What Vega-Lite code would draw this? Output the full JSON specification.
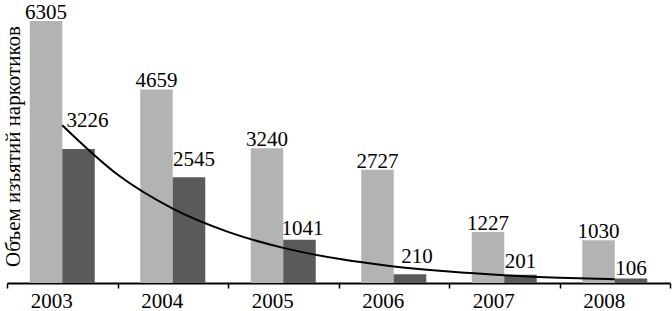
{
  "$schema": "https://vega.github.io/schema/vega-lite/v6.json",
  "width": 663,
  "height": 279,
  "autosize": {"type": "none"},
  "padding": {"left": 7, "top": 4, "right": 2, "bottom": 28},
  "config": {
    "view": {"stroke": null},
    "font": "Liberation Serif, Times New Roman, serif",
    "text": {"font": "Liberation Serif, Times New Roman, serif", "fontSize": 21, "color": "black", "baseline": "alphabetic", "align": "center"}
  },
  "datasets": {
    "bars": [
      {"year": "2003", "series": "ряд 1", "value": 6305},
      {"year": "2003", "series": "ряд 2", "value": 3226},
      {"year": "2004", "series": "ряд 1", "value": 4659},
      {"year": "2004", "series": "ряд 2", "value": 2545},
      {"year": "2005", "series": "ряд 1", "value": 3240},
      {"year": "2005", "series": "ряд 2", "value": 1041},
      {"year": "2006", "series": "ряд 1", "value": 2727},
      {"year": "2006", "series": "ряд 2", "value": 210},
      {"year": "2007", "series": "ряд 1", "value": 1227},
      {"year": "2007", "series": "ряд 2", "value": 201},
      {"year": "2008", "series": "ряд 1", "value": 1030},
      {"year": "2008", "series": "ряд 2", "value": 106}
    ],
    "trend": [
      {"t": 2003, "value": 3796},
      {"t": 2003.5, "value": 2610},
      {"t": 2004, "value": 1790},
      {"t": 2004.5, "value": 1231},
      {"t": 2005, "value": 845},
      {"t": 2005.5, "value": 581},
      {"t": 2006, "value": 398},
      {"t": 2006.5, "value": 274},
      {"t": 2007, "value": 188},
      {"t": 2007.5, "value": 129},
      {"t": 2008, "value": 89}
    ]
  },
  "encoding": {
    "y": {
      "field": "value",
      "type": "quantitative",
      "scale": {"domain": [0, 6714], "nice": false},
      "axis": {
        "domain": false, "ticks": false, "labels": false, "grid": false,
        "title": "Объем изъятий наркотиков",
        "titleFont": "Liberation Serif, Times New Roman, serif", "titleFontSize": 21, "titleFontWeight": "normal",
        "titleColor": "black", "titleAngle": 270, "titleX": 12, "titleY": 142,
        "titleAlign": "center", "titleBaseline": "alphabetic"
      }
    }
  },
  "layer": [
    {
      "data": {"name": "bars"},
      "encoding": {
        "x": {
          "field": "year", "type": "nominal",
          "scale": {"paddingInner": 0, "paddingOuter": 0},
          "axis": {
            "title": null, "domainColor": "black", "domainWidth": 2,
            "tickColor": "black", "tickWidth": 1.5, "tickSize": 5, "tickBand": "extent",
            "labelFont": "Liberation Serif, Times New Roman, serif", "labelFontSize": 21, "labelColor": "black",
            "labelAngle": 0, "labelPadding": 2, "labelOffset": -11
          }
        },
        "xOffset": {"field": "series", "type": "nominal", "scale": {"paddingInner": 0, "paddingOuter": 0.7}}
      },
      "layer": [
        {
          "mark": {"type": "bar"},
          "encoding": {
            "color": {"field": "series", "type": "nominal", "scale": {"range": ["#b3b3b3", "#5a5a5a"]}, "legend": null}
          }
        },
        {
          "transform": [{"filter": "datum.series === 'ряд 1'"}],
          "mark": {"type": "text", "dy": -2},
          "encoding": {"text": {"field": "value", "type": "quantitative", "format": "d"}}
        },
        {
          "transform": [{"filter": "datum.series === 'ряд 2' && datum.year === '2003'"}],
          "mark": {"type": "text", "dy": -22, "dx": 9},
          "encoding": {"text": {"field": "value", "type": "quantitative", "format": "d"}}
        },
        {
          "transform": [{"filter": "datum.series === 'ряд 2' && datum.year === '2004'"}],
          "mark": {"type": "text", "dy": -11, "dx": 5},
          "encoding": {"text": {"field": "value", "type": "quantitative", "format": "d"}}
        },
        {
          "transform": [{"filter": "datum.series === 'ряд 2' && datum.year === '2005'"}],
          "mark": {"type": "text", "dy": -5, "dx": 3},
          "encoding": {"text": {"field": "value", "type": "quantitative", "format": "d"}}
        },
        {
          "transform": [{"filter": "datum.series === 'ряд 2' && datum.year === '2006'"}],
          "mark": {"type": "text", "dy": -11, "dx": 7},
          "encoding": {"text": {"field": "value", "type": "quantitative", "format": "d"}}
        },
        {
          "transform": [{"filter": "datum.series === 'ряд 2' && datum.year === '2007'"}],
          "mark": {"type": "text", "dy": -7, "dx": 0},
          "encoding": {"text": {"field": "value", "type": "quantitative", "format": "d"}}
        },
        {
          "transform": [{"filter": "datum.series === 'ряд 2' && datum.year === '2008'"}],
          "mark": {"type": "text", "dy": -4, "dx": 0},
          "encoding": {"text": {"field": "value", "type": "quantitative", "format": "d"}}
        }
      ]
    },
    {
      "data": {"name": "trend"},
      "mark": {"type": "line", "color": "black", "strokeWidth": 2, "interpolate": "monotone"},
      "encoding": {
        "x": {"field": "t", "type": "quantitative", "scale": {"domain": [2002.5, 2008.5], "nice": false, "zero": false}, "axis": null}
      }
    }
  ],
  "resolve": {"scale": {"x": "independent"}}
}
